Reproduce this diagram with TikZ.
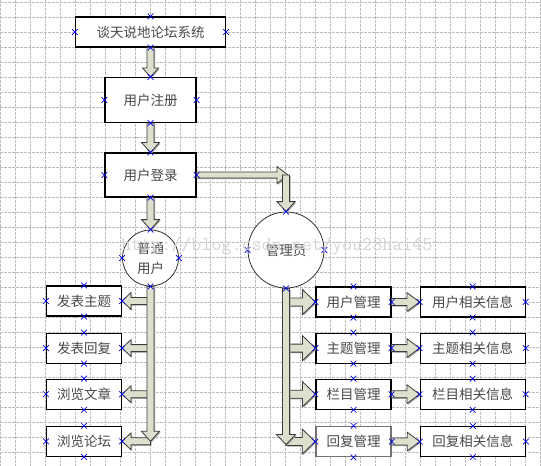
\documentclass[tikz,border=0pt]{standalone}
\usepackage{fontspec}
\newfontfamily\cjk{Noto Sans CJK SC}
\usepackage{xcolor}
\usepackage{tikz}
\usetikzlibrary{positioning, calc, shapes.misc}
\definecolor{arrfill}{RGB}{221,224,204}
\definecolor{arrline}{RGB}{60,60,60}
\definecolor{gridgray}{RGB}{190,190,190}
\definecolor{markblue}{RGB}{0,0,230}
\definecolor{txtgray}{RGB}{72,72,72}

\tikzset{
  shaft half/.store in=\shafthalf, shaft half=3.5,
  head half/.store in=\headhalf, head half=9,
  head len/.store in=\headlen, head len=10,
  blkarr/.style={fill=arrfill, draw=arrline, line width=0.8pt, line join=miter},
  arrshadow/.style={fill=black!35}
}
% outline of a block arrow, used inside a let path
\newcommand{\arrshape}{(0pt,{-\shafthalf pt}) -- ({\n2-\headlen pt},{-\shafthalf pt}) -- ({\n2-\headlen pt},{-\headhalf pt}) -- ({\n2+0pt},0pt) -- ({\n2-\headlen pt},{\headhalf pt}) -- ({\n2-\headlen pt},{\shafthalf pt}) -- (0pt,{\shafthalf pt}) -- cycle}
\newcommand{\blkarrow}[3][]{%
  \begin{scope}[#1]
    \fill[arrshadow] let \p1=(#2), \p2=(#3), \n1={atan2(\y2-\y1,\x2-\x1)}, \n2={veclen(\x2-\x1,\y2-\y1)} in
      [shift={(\p1)}, xshift=1.1pt, yshift=-1.1pt, rotate=\n1] \arrshape;
    \filldraw[blkarr] let \p1=(#2), \p2=(#3), \n1={atan2(\y2-\y1,\x2-\x1)}, \n2={veclen(\x2-\x1,\y2-\y1)} in
      [shift={(\p1)}, rotate=\n1] \arrshape;
  \end{scope}}

\begin{document}
\begin{tikzpicture}[x=1pt, y=-1pt,
    box/.style={rectangle, draw, fill=white, line width=1.1pt, minimum width=75pt, minimum height=30pt, font=\cjk\fontsize{13.5}{18}\selectfont, text=txtgray, inner sep=1pt},
    role/.style={circle, draw=black!80, fill=white, line width=0.8pt, font=\cjk\fontsize{13.5}{20}\selectfont, text=txtgray, align=center, inner sep=0pt},
    xmk/.style={cross out, draw=markblue, line width=0.7pt, minimum size=5pt, inner sep=0pt},
    gridline/.style={gridgray, line width=0.5pt, dash pattern=on 2.5pt off 1.5pt}]
  \fill[white] (0,0) rectangle (541,466);
  \useasboundingbox (0,0) rectangle (541,466);
  % page grid
  \foreach \gx in {0,15,...,540} \draw[gridline] (\gx,0) -- (\gx,466);
  \foreach \gy in {2.5,17.5,...,467.5} \draw[gridline] (0,\gy) -- (541,\gy);

  \node[box, minimum width=150pt] (sys) at (150.5,32) {谈天说地论坛系统};
  \node[box, minimum width=91pt, minimum height=45pt] (reg) at (150.5,100) {用户注册};
  \node[box, minimum width=91pt, minimum height=44pt] (login) at (150.5,175) {用户登录};
  \node[role, minimum size=56pt] (user) at (150.5,258) {普通\\用户};
  \node[role, minimum size=76pt] (admin) at (286,250) {管理员};

  \node[box] (post) at (84,301) {发表主题};
  \node[box, below=16pt of post] (reply) {发表回复};
  \node[box, below=15pt of reply] (browse) {浏览文章};
  \node[box, below=16pt of browse] (forum) {浏览论坛};

  \node[box] (umgr) at (353.5,302) {用户管理};
  \node[box, below=15pt of umgr] (tmgr) {主题管理};
  \node[box, below=15pt of tmgr] (cmgr) {栏目管理};
  \node[box, below=16pt of cmgr, draw=black!55, line width=1.6pt] (rmgr) {回复管理};

  \node[box, minimum width=105pt, right=28pt of umgr] (uinfo) {用户相关信息};
  \node[box, minimum width=105pt, right=28pt of tmgr] (tinfo) {主题相关信息};
  \node[box, minimum width=105pt, right=28pt of cmgr] (cinfo) {栏目相关信息};
  \node[box, minimum width=105pt, right=28pt of rmgr] (rinfo) {回复相关信息};

  \blkarrow[head half=8, head len=9]{sys.south}{reg.north}
  \blkarrow{reg.south}{login.north}
  \blkarrow{login.south}{user.north}
  \coordinate (turn) at (login.east -| admin.north);
  \blkarrow[shaft half=3, head half=8.5, head len=11]{login.east}{[xshift=2pt]turn}
  \blkarrow{turn}{admin.north}

  \foreach \nd in {post,reply,browse,forum}
    \blkarrow[head half=8.5, head len=9]{\nd.east -| user.south}{\nd.east};
  \blkarrow{user.south}{user.south |- forum.east}

  \foreach \nd in {umgr,tmgr,cmgr,rmgr}
    \blkarrow[shaft half=4, head half=12.5, head len=13]{\nd.west -| admin.south}{\nd.west};
  \coordinate (aend) at ([yshift=-3pt]admin.south |- rmgr.west);
  \blkarrow[head half=9.5]{admin.south}{aend}

  \foreach \a/\b in {umgr/uinfo,tmgr/tinfo,cmgr/cinfo,rmgr/rinfo}
    \blkarrow[head half=9.3, head len=12.5]{\a.east}{\b.west};

  % connection points
  \foreach \nd in {sys,reg,login,user,admin,post,reply,browse,forum,umgr,tmgr,cmgr,rmgr,uinfo,tinfo,cinfo,rinfo}
    \foreach \an in {north,south,east,west}
      \node[xmk] (\nd-\an) at (\nd.\an) {};

  \node[font=\ttfamily\fontsize{19.5}{20}\selectfont, text=black!17, anchor=base west, inner sep=0pt] (wmark) at (121,250) {http://blog.csdn.net/you23hai45};
\end{tikzpicture}
\end{document}
